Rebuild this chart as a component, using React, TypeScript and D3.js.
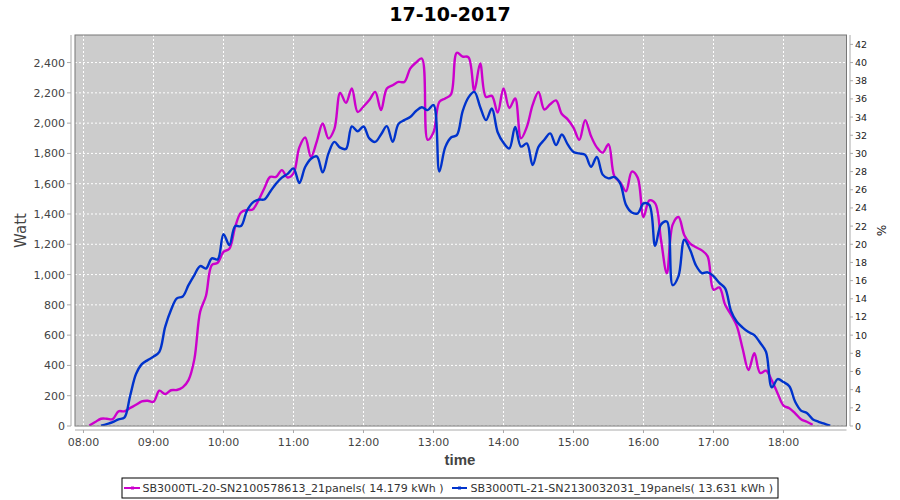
import React from "react";
import * as d3 from "d3";

const chartTitle = "17-10-2017";
const dayStart = [2017, 9, 17];
const intervalMinutes = 5;

const seriesNames = [
  "SB3000TL-20-SN2100578613_21panels( 14.179 kWh )",
  "SB3000TL-21-SN2130032031_19panels( 13.631 kWh )",
];
const seriesColors = ["#CC00CC", "#0033CC"];

// Magenta series, 5-minute samples from 08:05
const magentaStart = "08:05";
const magentaValues = [
  3, 26, 48, 48, 45, 97, 97, 119, 140, 163, 167, 160, 233, 211, 236, 238, 255, 303, 440, 754,
  860, 1063, 1078, 1150, 1170, 1315, 1410, 1426, 1430, 1490, 1570, 1645, 1645, 1690, 1641, 1668,
  1840, 1905, 1777, 1880, 1998, 1899, 1960, 2200, 2134, 2229, 2074, 2110, 2152, 2206, 2086, 2229,
  2250, 2272, 2272, 2360, 2400, 2427, 1890, 1940, 2140, 2163, 2190, 2465, 2440, 2435, 2215, 2394,
  2173, 2180, 2070, 2229, 2100, 2163, 1900, 1975, 2120, 2206, 2090, 2125, 2150, 2060, 2025, 1970,
  1890, 2020, 1915, 1840, 1805, 1861, 1650, 1610, 1550, 1680, 1640, 1380, 1490, 1470, 1230, 1008,
  1330, 1380, 1260, 1205, 1180, 1160, 1120, 900, 915, 800, 735, 660, 510, 370, 480, 350, 365, 300,
  215, 135, 117, 84, 45, 28, 8,
];

// Blue series, 5-minute samples from 08:15
const blueStart = "08:15";
const blueValues = [
  2, 13, 25, 44, 55, 200, 343, 409, 435, 458, 490, 655, 766, 843, 855, 930, 997, 1056, 1040, 1107,
  1100, 1267, 1195, 1320, 1320, 1420, 1475, 1495, 1496, 1547, 1600, 1640, 1665, 1701, 1605, 1710,
  1765, 1780, 1675, 1800, 1876, 1838, 1830, 1978, 1946, 1978, 1899, 1876, 1925, 1980, 1876, 1995,
  2020, 2040, 2080, 2105, 2086, 2120, 1680, 1840, 1905, 1921, 2080, 2170, 2206, 2107, 2020, 2097,
  1940, 1870, 1833, 1975, 1845, 1866, 1723, 1843, 1890, 1932, 1855, 1925, 1860, 1810, 1800, 1790,
  1712, 1777, 1660, 1635, 1645, 1602, 1460, 1410, 1404, 1470, 1460, 1190, 1330, 1350, 930, 990,
  1230, 1162, 1060, 1010, 1015, 990, 945, 909, 760, 688, 650, 620, 600, 550, 490, 255, 310, 290,
  262, 160, 102, 86, 45, 28, 15, 2,
];

const wattTicks = [0, 200, 400, 600, 800, 1000, 1200, 1400, 1600, 1800, 2000, 2200, 2400];
const percentTicks = [0, 2, 4, 6, 8, 10, 12, 14, 16, 18, 20, 22, 24, 26, 28, 30, 32, 34, 36, 38, 40, 42];
const hourTicks = ["08:00", "09:00", "10:00", "11:00", "12:00", "13:00", "14:00", "15:00", "16:00", "17:00", "18:00"];
const wattPerPercent = 60;

const at = (hhmm: string, addMin = 0) => {
  const [h, m] = hhmm.split(":").map(Number);
  return new Date(dayStart[0], dayStart[1], dayStart[2], h, m + addMin, 0);
};

const toPoints = (start: string, values: number[]) =>
  values.map((v, i) => ({ t: at(start, i * intervalMinutes), v }));

export default function App() {
  const W = 900, H = 500;
  const left = 75, right = 846.5, top = 35, bottom = 426;

  const x = d3.scaleTime()
    .domain([new Date(2017, 9, 17, 7, 52, 43), new Date(2017, 9, 17, 18, 54, 0)])
    .range([left, right]);
  const y = d3.scaleLinear().domain([0, 2582]).range([bottom, top]);
  const yR = d3.scaleLinear().domain([0, 2582 / wattPerPercent]).range([bottom, top]);

  const line = d3.line<{ t: Date; v: number }>()
    .x((d) => x(d.t))
    .y((d) => y(d.v))
    .curve(d3.curveCatmullRom.alpha(0.5));

  const series = [toPoints(magentaStart, magentaValues), toPoints(blueStart, blueValues)];
  const fmt = d3.format(",");
  const tickFont = "DejaVu Sans, sans-serif";

  const legendY = 488;

  return (
    <svg width={W} height={H} style={{ position: "absolute", left: 0, top: 0, background: "#fff" }}>
      <defs>
        <clipPath id="plotClip">
          <rect x={left} y={top} width={right - left} height={bottom - top} />
        </clipPath>
      </defs>
      <text x={450} y={21} textAnchor="middle" fontFamily={tickFont} fontWeight="bold" fontSize={19} fill="#000">
        {chartTitle}
      </text>

      <rect x={left} y={top} width={right - left} height={bottom - top} fill="#CCCCCC" />
      {hourTicks.map((h) => (
        <line key={"gx" + h} x1={x(at(h))} x2={x(at(h))} y1={top} y2={bottom} stroke="#fff" strokeWidth={1} strokeDasharray="2,2" />
      ))}
      {wattTicks.map((v) => (
        <line key={"gy" + v} x1={left} x2={right} y1={y(v)} y2={y(v)} stroke="#fff" strokeWidth={1} strokeDasharray="2,2" />
      ))}

      <g clipPath="url(#plotClip)">
        {series.map((pts, i) => (
          <path key={i} d={line(pts) || ""} fill="none" stroke={seriesColors[i]} strokeWidth={2.4} strokeLinejoin="round" />
        ))}
      </g>
      <rect x={left} y={top} width={right - left} height={bottom - top} fill="none" stroke="#777" strokeWidth={1} />

      {/* left axis */}
      <line x1={71} x2={71} y1={top} y2={bottom} stroke="#aaa" />
      {wattTicks.map((v) => (
        <g key={"ly" + v}>
          <line x1={67} x2={71} y1={y(v)} y2={y(v)} stroke="#aaa" />
          <text x={65} y={y(v) + 4} textAnchor="end" fontFamily={tickFont} fontSize={11} fill="#444">{fmt(v)}</text>
        </g>
      ))}
      <text transform={`translate(26,${(top + bottom) / 2}) rotate(-90)`} textAnchor="middle" fontFamily={tickFont} fontSize={15} fill="#444">Watt</text>

      {/* right axis */}
      <line x1={850} x2={850} y1={top} y2={bottom} stroke="#aaa" />
      {percentTicks.map((v) => (
        <g key={"ry" + v}>
          <line x1={850} x2={853} y1={yR(v)} y2={yR(v)} stroke="#aaa" />
          <text x={855} y={yR(v) + 3.5} textAnchor="start" fontFamily={tickFont} fontSize={9.5} fill="#222">{v}</text>
        </g>
      ))}
      <text transform={`translate(877,${(top + bottom) / 2}) rotate(90)`} textAnchor="middle" fontFamily={tickFont} fontSize={12} fill="#222">%</text>

      {/* bottom axis */}
      <line x1={left} x2={right} y1={430} y2={430} stroke="#aaa" />
      {hourTicks.map((h) => (
        <g key={"bx" + h}>
          <line x1={x(at(h))} x2={x(at(h))} y1={430} y2={433} stroke="#aaa" />
          <text x={x(at(h))} y={446} textAnchor="middle" fontFamily={tickFont} fontSize={11} fill="#444">{h}</text>
        </g>
      ))}
      <text x={460} y={465} textAnchor="middle" fontFamily="Liberation Sans, sans-serif" fontWeight="bold" fontSize={15} fill="#444">time</text>

      {/* legend */}
      <rect x={122} y={478} width={656} height={20} fill="#fff" stroke="#000" strokeWidth={1} />
      <line x1={124} x2={140} y1={legendY} y2={legendY} stroke={seriesColors[0]} strokeWidth={2} />
      <rect x={131} y={legendY - 1.5} width={3} height={3} fill={seriesColors[0]} />
      <text x={142.5} y={legendY + 4} fontFamily={tickFont} fontSize={11} fill="#333" textLength={301} lengthAdjust="spacingAndGlyphs">{seriesNames[0]}</text>
      <line x1={452} x2={467} y1={legendY} y2={legendY} stroke={seriesColors[1]} strokeWidth={2} />
      <rect x={458} y={legendY - 1.5} width={3} height={3} fill={seriesColors[1]} />
      <text x={470.5} y={legendY + 4} fontFamily={tickFont} fontSize={11} fill="#333" textLength={302.5} lengthAdjust="spacingAndGlyphs">{seriesNames[1]}</text>
    </svg>
  );
}
